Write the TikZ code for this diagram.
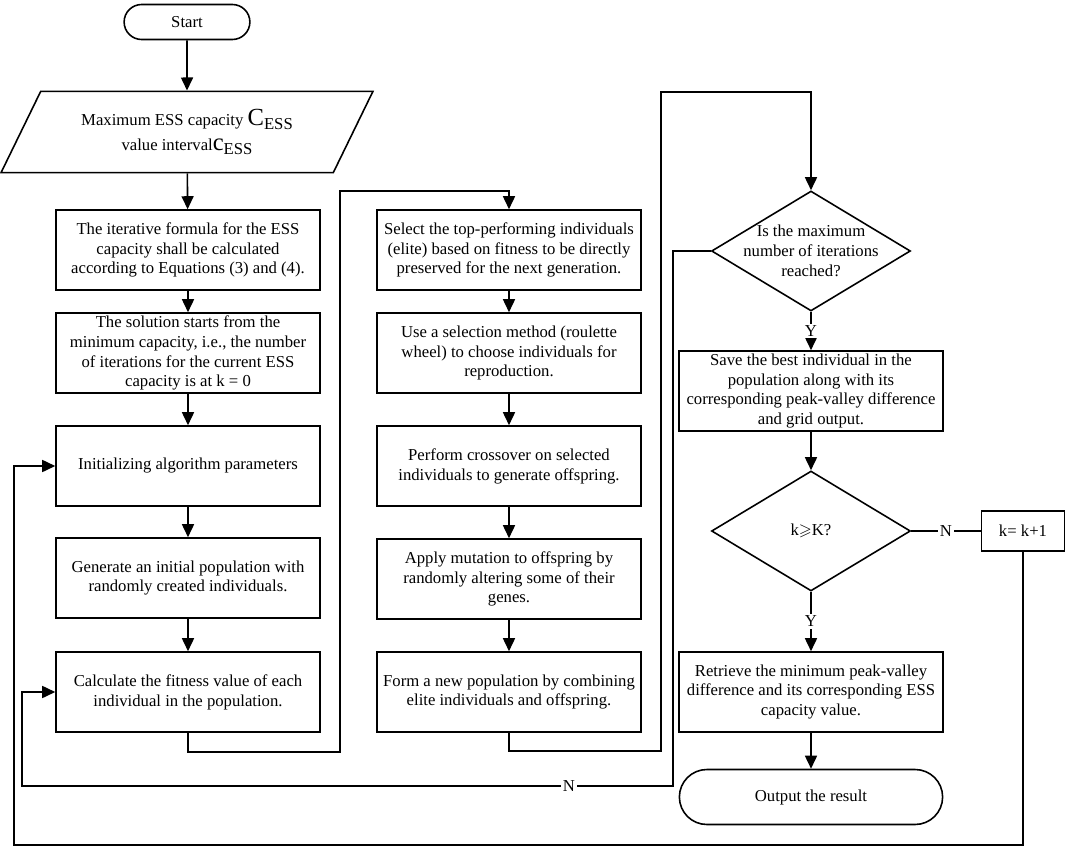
\documentclass[tikz,border=0pt]{standalone}
\usepackage{amssymb,amsmath}
\usepackage{fontspec}
\setmainfont{Liberation Serif}
\usetikzlibrary{shapes.geometric,shapes.misc,arrows.meta}

\begin{document}
\begin{tikzpicture}[x=0.02cm, y=-0.02cm, line width=0.9pt,
		font=\fontsize{9.5}{11.3}\selectfont,
		arr/.style={-{Triangle[length=0.26cm,width=0.24cm]}},
		proc/.style={draw, rectangle, minimum width=5.28cm, minimum height=1.6cm, align=center, inner sep=1pt},
		term/.style={draw, rounded rectangle, align=center},
		inout/.style={draw, trapezium, trapezium left angle=64, trapezium right angle=116, trapezium stretches body=true, minimum width=7.44cm, minimum height=1.6cm, inner xsep=0pt, inner ysep=0.36cm, align=center},
		decide/.style={draw, diamond, minimum width=3.98cm, minimum height=2.4cm, inner sep=0pt},
		lbl/.style={fill=white, inner sep=1pt}]
		\useasboundingbox (0,0) rectangle (1065,848);
		\def\big#1{{\fontsize{14}{14}\selectfont #1}\raisebox{-0.5ex}{ESS}}
		% first column
		\node[term, minimum width=2.75cm, minimum height=0.7cm] (start) at (187,22) {Start};
		\node[inout] (inp) at (187,132) {Maximum ESS capacity \big{C}\\[3pt] value interval\big{c}};
		\node[proc] (p1) at (188,250) {The iterative formula for the ESS\\capacity shall be calculated\\according to Equations (3) and (4).};
		\node[proc] (p2) at (188,353) {The solution starts from the\\minimum capacity, i.e., the number\\of iterations for the current ESS\\capacity is at k = 0};
		\node[proc] (p3) at (188,466) {Initializing algorithm parameters};
		\node[proc] (p4) at (188,578) {Generate an initial population with\\randomly created individuals.};
		\node[proc] (p5) at (188,692) {Calculate the fitness value of each\\individual in the population.};
		% second column
		\node[proc] (q1) at (509,250) {Select the top-performing individuals\\(elite) based on fitness to be directly\\preserved for the next generation.};
		\node[proc] (q2) at (509,353) {Use a selection method (roulette\\wheel) to choose individuals for\\reproduction.};
		\node[proc] (q3) at (509,466) {Perform crossover on selected\\individuals to generate offspring.};
		\node[proc] (q4) at (509,579) {Apply mutation to offspring by\\randomly altering some of their\\genes.};
		\node[proc] (q5) at (509,692) {Form a new population by combining\\elite individuals and offspring.};
		% third column
		\node[decide] (d1) at (811,251) {};
		\node[align=center] (d1t) at (d1) {Is the maximum\\number of iterations\\reached?};
		\node[proc] (r1) at (811,391) {Save the best individual in the\\population along with its\\corresponding peak-valley difference\\and grid output.};
		\node[decide] (d2) at (811,531) {};
		\node (d2t) at (d2) {k$\geqslant$K?};
		\node[draw, minimum width=1.66cm, minimum height=0.8cm] (inc) at (1023,531) {k= k+1};
		\node[proc] (r2) at (811,692) {Retrieve the minimum peak-valley\\difference and its corresponding ESS\\capacity value.};
		\node[term, minimum width=5.5cm, minimum height=1.1cm] (stop) at (811,797) {Output the result};
		% straight links
		\draw[arr] (start) -- (inp);
		\draw[arr] (inp) -- (p1);
		\draw[arr] (p1) -- (p2);
		\draw[arr] (p2) -- (p3);
		\draw[arr] (p3) -- (p4);
		\draw[arr] (p4) -- (p5);
		\draw[arr] (q1) -- (q2);
		\draw[arr] (q2) -- (q3);
		\draw[arr] (q3) -- (q4);
		\draw[arr] (q4) -- (q5);
		\draw[arr] (d1) -- node[lbl] {Y} (r1);
		\draw[arr] (r1) -- (d2);
		\draw[arr] (d2) -- node[lbl] {Y} (r2);
		\draw (d2) -- node[lbl] {N} (inc);
		\draw[arr] (r2) -- (stop);
		% column changes
		\coordinate (c1) at (340,752);
		\coordinate (c2) at (340,191);
		\draw[arr] (p5.south) |- (c1) -- (c2) -| (q1.north);
		\coordinate (c3) at (661,751);
		\coordinate (c4) at (661,92);
		\draw[arr] (q5.south) |- (c3) -- (c4) -| (d1.north);
		% loops back
		\coordinate (c5) at (673,786);
		\coordinate (c6) at (22,786);
		\draw[arr] (d1.west) -| (c5) -- node[lbl, pos=0.16] {N} (c6) |- (p5.west);
		\coordinate (c7) at (1023,845);
		\coordinate (c8) at (14,845);
		\draw[arr] (inc.south) -- (c7) -- (c8) |- (p3.west);
	\end{tikzpicture}
\end{document}
